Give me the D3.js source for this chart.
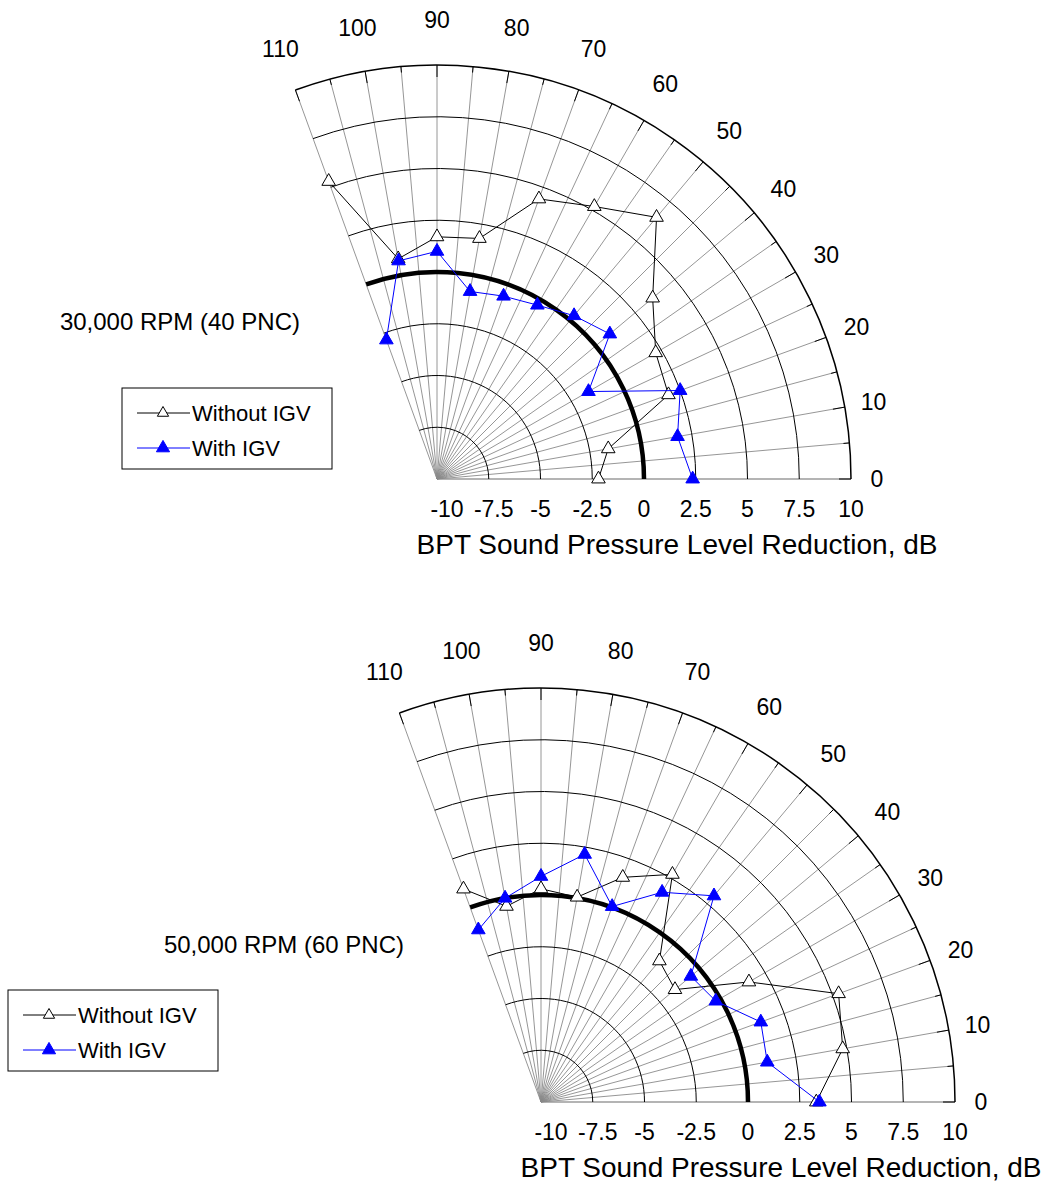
<!DOCTYPE html>
<html lang="en">
  <head>
    <meta charset="UTF-8">
    <title>BPT Sound Pressure Level Reduction</title>
    <style>
      body { margin: 0; background: #fff; }
      text { font-family: "Liberation Sans", Arial, sans-serif; fill: #000; }
    </style>
  </head>
  <body>
<div id="my_dataviz"></div>
<script src="https://d3js.org/d3.v7.min.js"></script>
<script>

// angles of the measurement points (deg)
var angles = [0, 10, 20, 30, 40, 50, 60, 70, 80, 90, 100, 110]

// 30,000 RPM (40 PNC)
var rpm30_without = [-2.2, -1.6, 1.9, 2.2, 3.6, 6.5, 5.2, 4.4, 1.8, 1.7, 0.8, 5.3]
var rpm30_with    = [2.35, 1.8, 2.5, -1.55, 0.9, 0.3, -0.3, -0.6, -0.8, 1.0, 0.7, -2.85]

// 50,000 RPM (60 PNC)
var rpm50_without = [3.3, 4.8, 5.3, 1.6, -1.55, -1.1, 2.7, 1.55, 0.05, 0.3, -0.4, 0.95]
var rpm50_with    = [3.45, 1.1, 1.3, -0.25, -0.55, 3.0, 1.7, 0.05, 2.15, 0.9, 0.0, -1.15]

// axis ticks
var radialTicks = [-10, -7.5, -5, -2.5, 0, 2.5, 5, 7.5, 10]
var angleTicks = [0, 10, 20, 30, 40, 50, 60, 70, 80, 90, 100, 110]
var spokeAngles = d3.range(0, 111, 5)

var seriesNames = ["Without IGV", "With IGV"]

var width = 1050
    height = 1183
    radius = 414

var svg = d3.select("#my_dataviz")
  .append("svg")
    .attr("width", width)
    .attr("height", height)

svg.append("rect").attr("width", width).attr("height", height).attr("fill", "white")

// radial scale: -10 dB at the centre, 10 dB on the outer arc
var r = d3.scaleLinear().domain([-10, 10]).range([0, radius])
var toRad = function(deg) { return deg * Math.PI / 180 }

// the two panels
var panels = [
  { cx: 437, cy: 479, title: "30,000 RPM (40 PNC)", without: rpm30_without, withIgv: rpm30_with, legend: [122, 388] },
  { cx: 541, cy: 1102, title: "50,000 RPM (60 PNC)", without: rpm50_without, withIgv: rpm50_with, legend: [8, 990] }
]

var triangle = d3.symbol().type(d3.symbolTriangle)

panels.forEach(function(p) {
  var g = svg.append("g").attr("transform", "translate(" + p.cx + "," + p.cy + ")")

  // polar -> screen, angle counter-clockwise from the right
  function px(deg, rr) { return rr * Math.cos(toRad(deg)) }
  function py(deg, rr) { return -rr * Math.sin(toRad(deg)) }

  // spokes every 5 degrees
  g.selectAll(".spoke")
    .data(spokeAngles)
    .enter().append("line")
      .attr("x1", 0).attr("y1", 0)
      .attr("x2", function(d) { return px(d, radius) })
      .attr("y2", function(d) { return py(d, radius) })
      .attr("stroke", function(d) { return d == 0 ? "#b4b4b4" : "#8a8a8a" })
      .attr("stroke-width", function(d) { return d == 0 ? 2 : 0.9 })

  // rings
  g.selectAll(".ring")
    .data(radialTicks.slice(1))
    .enter().append("path")
      .attr("d", function(d) {
        var path = d3.path()
        path.moveTo(r(d), 0)
        path.arc(0, 0, r(d), 0, -toRad(110), true)
        return path.toString()
      })
      .attr("fill", "none")
      .attr("stroke", "#000")
      .attr("stroke-width", function(d) { return d == 0 ? 4.5 : (d == 10 ? 1.5 : 1) })

  // ticks on the outer arc (pointing inward)
  g.selectAll(".tick")
    .data(spokeAngles)
    .enter().append("line")
      .attr("x1", function(d) { return px(d, radius) })
      .attr("y1", function(d) { return py(d, radius) })
      .attr("x2", function(d) { return px(d, radius - (d % 10 == 0 ? 12 : 6)) })
      .attr("y2", function(d) { return py(d, radius - (d % 10 == 0 ? 12 : 6)) })
      .attr("stroke", "#000")
      .attr("stroke-width", 1)

  // angle labels
  g.selectAll(".alabel")
    .data(angleTicks)
    .enter().append("text")
      .attr("x", function(d) { return px(d, (440 + 19 * Math.sin(toRad(d))) * radius / 414) })
      .attr("y", function(d) { return py(d, (440 + 19 * Math.sin(toRad(d))) * radius / 414) })
      .attr("dy", "0.36em")
      .attr("text-anchor", "middle")
      .style("font-size", "23px")
      .text(function(d) { return d })

  // radial labels along the baseline
  g.selectAll(".rlabel")
    .data(radialTicks)
    .enter().append("text")
      .attr("x", function(d) { return r(d) + (d == -10 ? 10 : (d == -7.5 ? 5 : 0)) })
      .attr("y", 38)
      .attr("text-anchor", "middle")
      .style("font-size", "23px")
      .text(function(d) { return d })

  g.append("text")
    .attr("x", 240)
    .attr("y", 75)
    .attr("text-anchor", "middle")
    .style("font-size", "28px")
    .text("BPT Sound Pressure Level Reduction, dB")

  g.append("text")
    .attr("x", -137)
    .attr("y", -158)
    .attr("dy", "0.36em")
    .attr("text-anchor", "end")
    .style("font-size", "24px")
    .text(p.title)

  // data series
  var line = d3.lineRadial()
    .angle(function(d) { return toRad(90 - d[0]) })
    .radius(function(d) { return r(d[1]) })

  var series = [
    { values: p.without, color: "#000", fill: "#fff" },
    { values: p.withIgv, color: "#0000ff", fill: "#0000ff" }
  ]

  series.forEach(function(s) {
    var pts = d3.zip(angles, s.values)
    g.append("path")
      .datum(pts)
      .attr("d", line)
      .attr("fill", "none")
      .attr("stroke", s.color)
      .attr("stroke-width", 1)
    g.selectAll(null)
      .data(pts)
      .enter().append("path")
        .attr("d", triangle.size(80))
        .attr("transform", function(d) { return "translate(" + px(d[0], r(d[1])) + "," + py(d[0], r(d[1])) + ")" })
        .attr("fill", s.fill)
        .attr("stroke", s.color)
        .attr("stroke-width", 1)
  })

  // legend
  var lg = svg.append("g").attr("transform", "translate(" + p.legend[0] + "," + p.legend[1] + ")")
  lg.append("rect")
    .attr("width", 210).attr("height", 81)
    .attr("fill", "white").attr("stroke", "#000").attr("stroke-width", 1)
  series.forEach(function(s, i) {
    var yy = 25 + i * 35
    lg.append("line")
      .attr("x1", 15).attr("x2", 68).attr("y1", yy).attr("y2", yy)
      .attr("stroke", s.color).attr("stroke-width", 1)
    lg.append("path")
      .attr("d", triangle.size(i == 0 ? 55 : 75))
      .attr("transform", "translate(41," + yy + ")")
      .attr("fill", s.fill).attr("stroke", s.color)
    lg.append("text")
      .attr("x", 70).attr("y", yy).attr("dy", "0.36em")
      .style("font-size", "22px")
      .text(seriesNames[i])
  })
})

</script>
  </body>
</html>
